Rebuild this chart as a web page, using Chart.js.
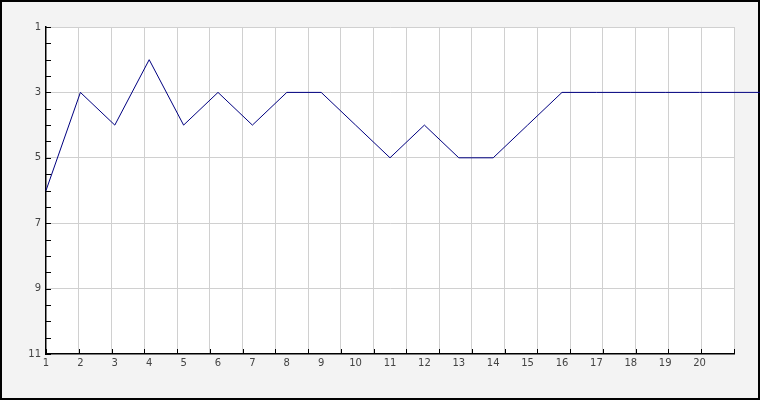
<!DOCTYPE html>
<html><head><meta charset="utf-8">
<script src="https://cdn.jsdelivr.net/npm/chart.js@4/dist/chart.umd.min.js"></script>
<style>html,body{margin:0;padding:0;background:#f3f3f3;}canvas{display:block;}</style>
</head><body>
<canvas id="c" width="760" height="400"></canvas>
<script>
// Data
const positions = [1,2,3,4,5,6,7,8,9,10,11,12,13,14,15,16,17,18,19,20,21,22];
const ranks     = [6,3,4,2,4,3,4,3,3,4,5,4,5,5,4,3,3,3,3,3,3,3];
const xTickLabels = ['1','2','3','4','5','6','7','8','9','10','11','12','13','14','15','16','17','18','19','20'];
const yTickLabels = ['1','3','5','7','9','11'];

const points = positions.map((p, i) => ({x: p, y: ranks[i]}));

const framePlugin = {
  id: 'frame',
  beforeDraw(chart) {
    const {ctx, chartArea: a, width, height} = chart;
    ctx.save();
    ctx.fillStyle = '#f3f3f3';
    ctx.fillRect(0, 0, width, height);
    ctx.fillStyle = '#ffffff';
    ctx.fillRect(a.left, a.top, a.right - a.left, a.bottom - a.top);
    ctx.strokeStyle = '#000';
    ctx.lineWidth = 2;
    ctx.strokeRect(1, 1, width - 2, height - 2);
    ctx.restore();
  },
  beforeDatasetsDraw(chart) {
    const {ctx, chartArea: a, scales} = chart;
    ctx.save();
    ctx.strokeStyle = '#000';
    ctx.lineWidth = 1;
    ctx.beginPath();
    scales.y.ticks.forEach(t => {
      const py = Math.round(scales.y.getPixelForValue(t.value)) + 0.5;
      ctx.moveTo(a.left, py); ctx.lineTo(a.left + 5, py);
    });
    scales.xg.ticks.forEach(t => {
      const px = Math.round(scales.xg.getPixelForValue(t.value)) + 0.5;
      ctx.moveTo(px, a.bottom); ctx.lineTo(px, a.bottom - 5);
    });
    ctx.stroke();
    ctx.restore();
  }
};

Chart.defaults.font.family = '"DejaVu Sans", sans-serif';
Chart.defaults.font.size = 10;
Chart.defaults.color = '#444';

new Chart(document.getElementById('c'), {
  type: 'line',
  data: {
    datasets: [{
      data: points,
      xAxisID: 'x',
      yAxisID: 'y',
      borderColor: '#000080',
      borderWidth: 1,
      pointRadius: 0,
      tension: 0,
      fill: false,
      clip: false
    }]
  },
  options: {
    responsive: false,
    devicePixelRatio: 1,
    animation: false,
    events: [],
    layout: {padding: {left: 0, right: 26, top: 27, bottom: 0}},
    plugins: {legend: {display: false}, tooltip: {enabled: false}},
    scales: {
      x: {
        type: 'linear', position: 'bottom',
        afterDataLimits(s) { s.min = 1; s.max = 21; },
        afterFit(s) { s.height = 46; },
        grid: {display: false, drawTicks: false},
        border: {display: true, color: '#000', width: 1.5},
        ticks: {
          stepSize: 1, autoSkip: false, maxRotation: 0, padding: 3,
          callback: (v) => (v >= 1 && v <= xTickLabels.length && Number.isInteger(v)) ? xTickLabels[v - 1] : ''
        }
      },
      xg: {
        type: 'linear', position: 'top', min: 0, max: 21,
        afterFit(s) { s.height = 0; },
        grid: {
          drawTicks: false,
          color: (c) => (c.tick && (c.tick.value === 0)) ? 'rgba(0,0,0,0)' : '#d0d0d0',
          lineWidth: 1
        },
        border: {display: false},
        ticks: {display: false, stepSize: 1, autoSkip: false}
      },
      y: {
        type: 'linear', position: 'left', min: 1, max: 11, reverse: true,
        afterFit(s) { s.width = 46; },
        grid: {
          drawTicks: false,
          color: (c) => {
            const v = c.tick ? c.tick.value : null;
            return (yTickLabels.includes(String(v)) && v !== 11) ? '#d0d0d0' : 'rgba(0,0,0,0)';
          },
          lineWidth: 1
        },
        border: {display: true, color: '#000', width: 1.5},
        ticks: {
          stepSize: 0.5, autoSkip: false, padding: 5,
          callback: (v) => yTickLabels.includes(String(v)) ? String(v) : ''
        }
      }
    }
  },
  plugins: [framePlugin]
});
</script>
</body></html>
